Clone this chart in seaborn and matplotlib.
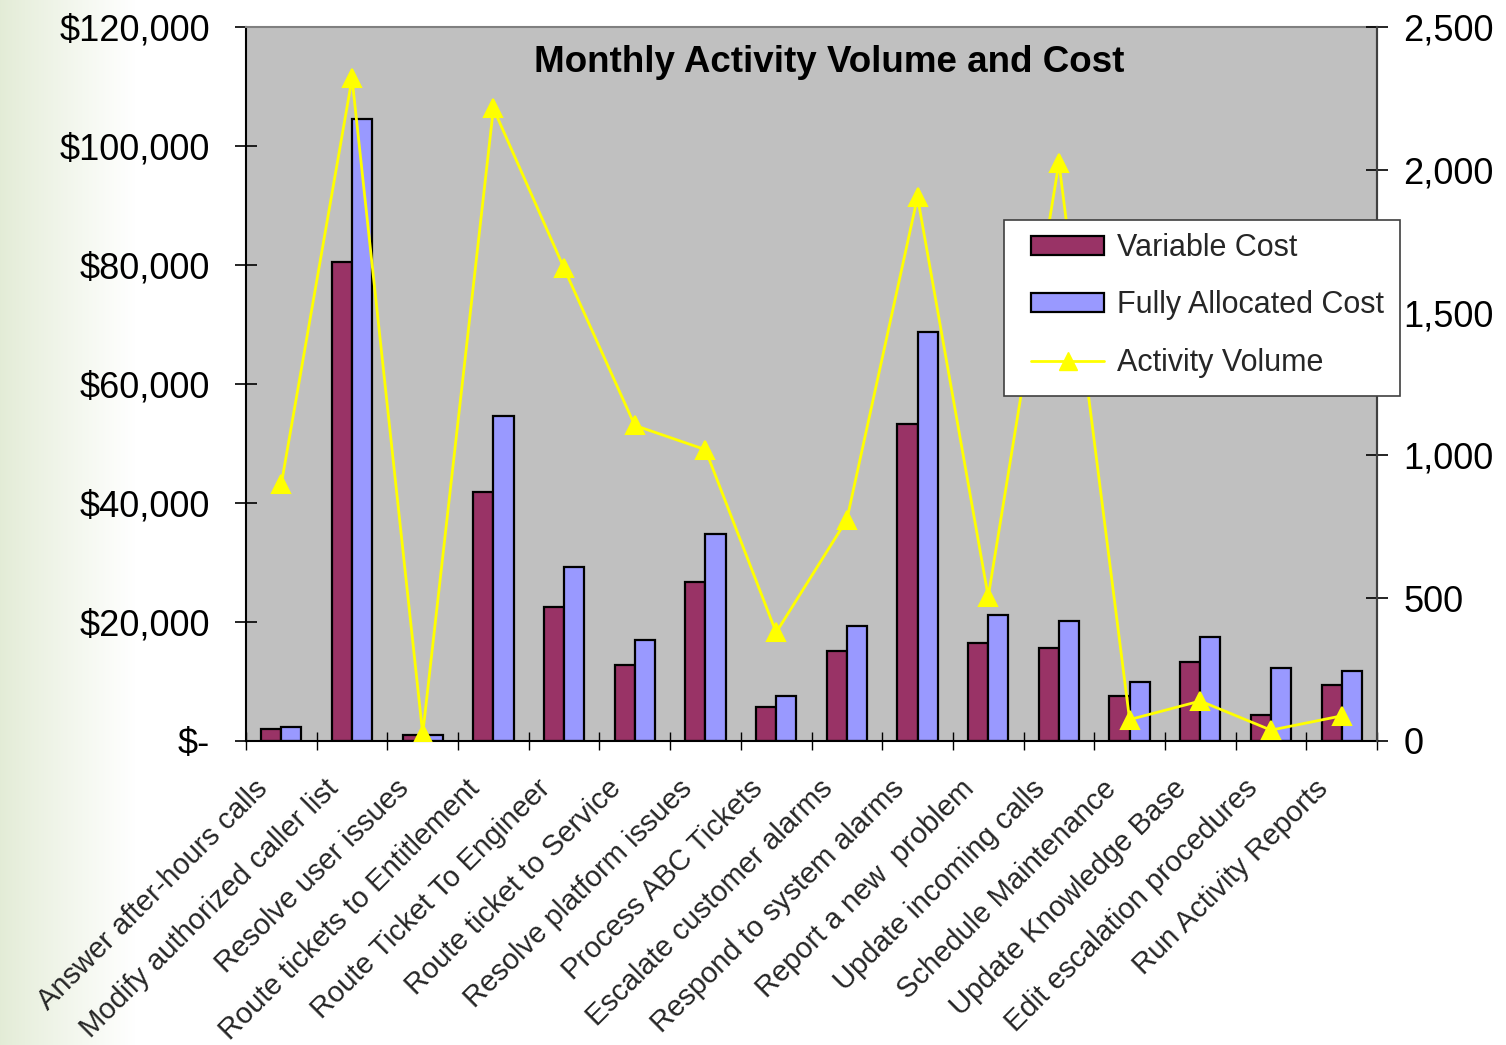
import numpy as np
import pandas as pd
import matplotlib
matplotlib.use("Agg")
import matplotlib.pyplot as plt
import seaborn as sns
from matplotlib.patches import Patch, Rectangle
from matplotlib.lines import Line2D
from matplotlib.ticker import FuncFormatter, FixedLocator
import matplotlib.transforms as mtransforms

# ---- data -------------------------------------------------------------
activities = [
    "Answer after-hours calls",
    "Modify authorized caller list",
    "Resolve user issues",
    "Route tickets to Entitlement",
    "Route Ticket To Engineer",
    "Route ticket to Service",
    "Resolve platform issues",
    "Process ABC Tickets",
    "Escalate customer alarms",
    "Respond to system alarms",
    "Report a new  problem",
    "Update incoming calls",
    "Schedule Maintenance",
    "Update Knowledge Base",
    "Edit escalation procedures",
    "Run Activity Reports",
]
variable_cost = [2000, 80500, 950, 41900, 22600, 12700, 26800, 5700,
                 15100, 53200, 16500, 15600, 7600, 13200, 4300, 9400]
fully_allocated_cost = [2400, 104500, 1000, 54600, 29200, 17000, 34800, 7600,
                        19300, 68700, 21200, 20200, 9900, 17400, 12200, 11800]
activity_volume = [900, 2320, 25, 2215, 1655, 1105, 1020, 380,
                   775, 1905, 505, 2025, 75, 140, 38, 88]

series_names = ["Variable Cost", "Fully Allocated Cost", "Activity Volume"]
cost_ticks = [0, 20000, 40000, 60000, 80000, 100000, 120000]
volume_ticks = [0, 500, 1000, 1500, 2000, 2500]

# ---- styling ------------------------------------------------------------
sns.set_theme(style="white")
plt.rcParams["font.family"] = ["Liberation Sans", "DejaVu Sans"]

VC_COLOR = "#993366"
FAC_COLOR = "#9999FF"
LINE_COLOR = "#FFFF00"
PLOT_BG = "#C0C0C0"

W, H = 1506, 1045
fig = plt.figure(figsize=(W / 100, H / 100), dpi=100)
fig.patch.set_facecolor("white")

# pale green band fading in from the left edge of the slide
bg = fig.add_axes([0, 0, 1, 1], zorder=-5)
xs = np.arange(W)
t = np.clip(xs / 135.0, 0, 1) ** 0.9
left_col = np.array([0.890, 0.925, 0.840])
grad = left_col[None, :] * (1 - t[:, None]) + np.ones(3)[None, :] * t[:, None]
bg.imshow(grad[None, :, :], aspect="auto", extent=[0, 1, 0, 1])
bg.set_axis_off()

ax = fig.add_axes([246 / W, 1 - 741 / H, (1377 - 246) / W, (741 - 27) / H])
ax.set_facecolor(PLOT_BG)

df = pd.DataFrame({
    "Activity": activities * 2,
    "Cost": variable_cost + fully_allocated_cost,
    "Type": [series_names[0]] * len(activities) + [series_names[1]] * len(activities),
})

sns.barplot(data=df, x="Activity", y="Cost", hue="Type",
            palette=[VC_COLOR, FAC_COLOR], edgecolor="black", linewidth=1.6,
            width=0.57, gap=0, saturation=1, legend=False, ax=ax)

ax2 = ax.twinx()
sns.pointplot(x=activities, y=activity_volume, ax=ax2, color=LINE_COLOR,
              markers="^", linestyles="-", linewidth=2.0, markersize=12.5,
              errorbar=None)
for ln in ax2.lines:
    ln.set_markeredgecolor(LINE_COLOR)
    ln.set_markerfacecolor(LINE_COLOR)

n = len(activities)
ax.set_xlim(-0.5, n - 0.5)
ax.set_ylim(0, 120000)
ax2.set_ylim(0, 2500)

# left axis: currency
ax.yaxis.set_major_locator(FixedLocator(cost_ticks))
ax.yaxis.set_major_formatter(FuncFormatter(lambda v, p: "$-" if v == 0 else f"${v:,.0f}"))
ax.tick_params(axis="y", which="major", direction="inout", length=16, width=1.2,
               color="black", labelsize=26, pad=18, left=True, labelcolor="black")

# right axis: volume
ax2.yaxis.set_major_locator(FixedLocator(volume_ticks))
ax2.yaxis.set_major_formatter(FuncFormatter(lambda v, p: f"{v:,.0f}"))
ax2.tick_params(axis="y", which="major", direction="inout", length=16, width=1.2,
                color="black", labelsize=26, pad=11, right=True, labelcolor="black")

# category axis: labels at centres, tick marks on boundaries
ax.set_xticks(np.arange(n))
ax.set_xticklabels(activities)
ax.tick_params(axis="x", which="major", length=0, labelsize=21, pad=6)
ax.xaxis.set_minor_locator(FixedLocator(np.arange(-0.5, n, 1.0)))
ax.tick_params(axis="x", which="minor", direction="inout", length=13, width=1.0,
               color="black", bottom=True)
offset = mtransforms.ScaledTranslation(-18 / 100, -35 / 100, fig.dpi_scale_trans)
for lab in ax.get_xticklabels():
    lab.set_rotation(45)
    lab.set_ha("right")
    lab.set_va("center")
    lab.set_rotation_mode("anchor")
    lab.set_transform(lab.get_transform() + offset)
ax.set_xlabel("")
ax.set_ylabel("")
ax2.set_ylabel("")
ax2.set_xlabel("")

for side, col, lw in [("left", "black", 1.5), ("bottom", "black", 1.5),
                      ("top", "#808080", 1.5), ("right", "#404040", 1.5)]:
    ax.spines[side].set_visible(True)
    ax.spines[side].set_color(col)
    ax.spines[side].set_linewidth(lw)
for side in ["left", "bottom", "top"]:
    ax2.spines[side].set_visible(False)
ax2.spines["right"].set_visible(True)
ax2.spines["right"].set_color("#404040")
ax2.spines["right"].set_linewidth(1.5)

ax.text((829 - 246) / (1377 - 246), (741 - 63) / 714, "Monthly Activity Volume and Cost",
        transform=ax.transAxes, ha="center", va="center",
        fontsize=26.5, fontweight="bold", color="black", zorder=10)

# legend box (white panel with a thin dark border)
box = Rectangle((1004 / W, 1 - 396 / H), (1400 - 1004) / W, (396 - 220) / H,
                transform=fig.transFigure, facecolor="white", edgecolor="#404040",
                linewidth=1.2, zorder=4)
fig.patches.append(box)

handles = [
    Patch(facecolor=VC_COLOR, edgecolor="black", linewidth=1.6),
    Patch(facecolor=FAC_COLOR, edgecolor="black", linewidth=1.6),
    Line2D([0], [0], color=LINE_COLOR, linewidth=2, marker="^", markersize=12.5,
           markerfacecolor=LINE_COLOR, markeredgecolor=LINE_COLOR),
]
leg = fig.legend(handles, series_names, loc="upper left",
                 bbox_to_anchor=(1031 / W, 1 - 233 / H), fontsize=22,
                 frameon=False, handlelength=2.4, handleheight=0.6,
                 labelspacing=0.9, borderpad=0, handletextpad=0.4,
                 borderaxespad=0)
leg.set_zorder(5)

fig.savefig("out.png", dpi=100, facecolor=fig.get_facecolor())
